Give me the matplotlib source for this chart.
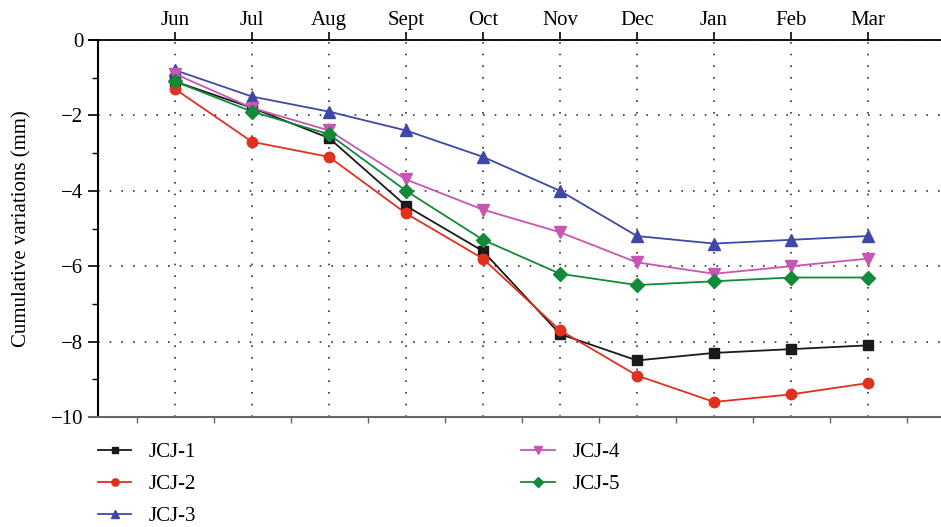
import matplotlib
matplotlib.use("Agg")
import matplotlib.pyplot as plt
from matplotlib.ticker import FixedLocator

plt.rcParams["font.family"] = ["Liberation Serif", "DejaVu Serif"]

months = ["Jun", "Jul", "Aug", "Sept", "Oct", "Nov", "Dec", "Jan", "Feb", "Mar"]
jcj1 = [-1.1, -1.8, -2.6, -4.4, -5.6, -7.8, -8.5, -8.3, -8.2, -8.1]
jcj2 = [-1.3, -2.7, -3.1, -4.6, -5.8, -7.7, -8.9, -9.6, -9.4, -9.1]
jcj3 = [-0.8, -1.5, -1.9, -2.4, -3.1, -4.0, -5.2, -5.4, -5.3, -5.2]
jcj4 = [-0.9, -1.8, -2.4, -3.7, -4.5, -5.1, -5.9, -6.2, -6.0, -5.8]
jcj5 = [-1.1, -1.9, -2.5, -4.0, -5.3, -6.2, -6.5, -6.4, -6.3, -6.3]

series = [
    ("JCJ-1", jcj1, "#1a1a1a", "s", 6.5),
    ("JCJ-2", jcj2, "#e0301e", "o", 7.5),
    ("JCJ-3", jcj3, "#3f48a8", "^", 8.5),
    ("JCJ-4", jcj4, "#c855b4", "v", 8.5),
    ("JCJ-5", jcj5, "#138a3a", "D", 7),
]

fig = plt.figure(figsize=(9.41, 5.27), dpi=100)
ax = fig.add_axes([98 / 941, 1 - 417 / 527, 847 / 941, 377 / 527])

x = list(range(len(months)))
for name, vals, col, mk, ms in series:
    ax.plot(x, vals, color=col, marker=mk, markersize=ms, lw=1.3, label=name,
            clip_on=False, zorder=3)

ax.set_xlim(-1, 10)
ax.set_ylim(-10, 0)
ax.set_xticks(x)
ax.set_xticklabels(months)
ax.xaxis.set_minor_locator(FixedLocator([i - 0.5 for i in range(11)]))
ax.set_yticks(range(-10, 1, 2))
ax.set_yticklabels(["\u221210", "\u22128", "\u22126", "\u22124", "\u22122", "0"])
ax.yaxis.set_minor_locator(FixedLocator(range(-9, 0, 2)))

ax.tick_params(axis="x", which="major", top=True, bottom=False, labeltop=True,
               labelbottom=False, direction="out", length=6, width=1.2,
               labelsize=15, pad=1)
ax.tick_params(axis="x", which="minor", top=False, bottom=True, direction="out",
               length=4, width=1, color="#666666")
ax.tick_params(axis="y", which="major", direction="out", length=7, width=1.2,
               labelsize=15)
ax.tick_params(axis="y", which="minor", direction="out", length=4, width=1)

ax.spines["right"].set_visible(False)
ax.spines["top"].set_linewidth(1.3)
ax.spines["top"].set_bounds(-1.12, 10)
ax.spines["left"].set_linewidth(1.5)
ax.spines["bottom"].set_color("#666666")
ax.spines["bottom"].set_linewidth(1.5)
ax.spines["bottom"].set_bounds(-1.12, 10)

ax.grid(True, which="major", color="#333333", linestyle=(0, (1, 6)), lw=1.2)

ax.set_ylabel("Cumulative variations (mm)", fontsize=15, labelpad=14)

ax.legend(loc="upper left", bbox_to_anchor=(-0.01, -0.045), ncol=2, frameon=False,
          fontsize=15, handlelength=1.6, handletextpad=0.85, columnspacing=15.6,
          labelspacing=0.6, borderaxespad=0, markerscale=0.7)

fig.savefig("out.png", dpi=100)
